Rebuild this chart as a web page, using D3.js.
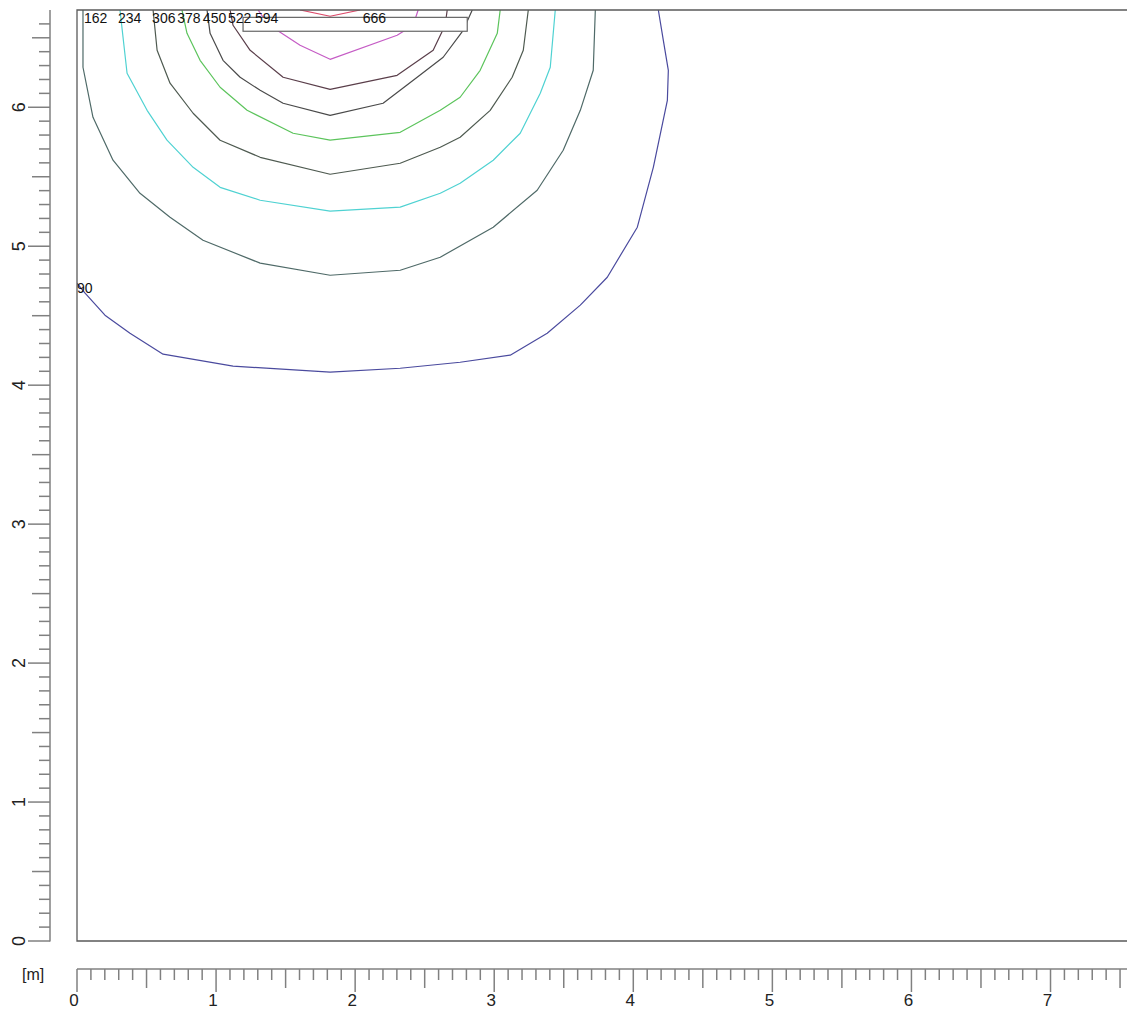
<!DOCTYPE html>
<html>
<head>
<meta charset="utf-8">
<script src="https://cdn.jsdelivr.net/npm/d3@7/dist/d3.min.js"></script>
<style>
  html, body { margin: 0; padding: 0; background: #fff; }
  svg { display: block; }
  text { font-family: "Liberation Sans", Arial, sans-serif; }
</style>
</head>
<body>
<svg id="chart" width="1127" height="1011"></svg>
<script>
// ---- data (metres) ----
const levels = [90, 162, 234, 306, 378, 450, 522, 594, 666];

const c90 = [[0,4.734],[0.058,4.662],[0.201,4.504],[0.381,4.374],[0.619,4.223],[1.122,4.137],[1.820,4.094],[2.324,4.122],[2.755,4.165],[3.115,4.216],[3.381,4.374],[3.619,4.576],[3.813,4.777],[4.029,5.137],[4.144,5.568],[4.245,6.050],[4.252,6.266],[4.216,6.482],[4.180,6.7]];
const c162 = [[0.043,6.7],[0.043,6.288],[0.115,5.928],[0.259,5.619],[0.453,5.381],[0.669,5.209],[0.906,5.043],[1.317,4.878],[1.820,4.791],[2.324,4.827],[2.612,4.921],[2.993,5.137],[3.309,5.403],[3.496,5.691],[3.619,5.978],[3.712,6.266],[3.727,6.7]];
const c234 = [[0.309,6.7],[0.360,6.245],[0.504,5.978],[0.647,5.763],[0.835,5.568],[1.029,5.424],[1.317,5.331],[1.820,5.252],[2.324,5.281],[2.612,5.381],[2.755,5.453],[2.993,5.619],[3.187,5.813],[3.331,6.101],[3.403,6.288],[3.439,6.7]];
const c306 = [[0.547,6.7],[0.576,6.410],[0.669,6.173],[0.835,5.957],[1.029,5.763],[1.317,5.640],[1.820,5.518],[2.324,5.597],[2.612,5.712],[2.755,5.784],[2.971,5.978],[3.129,6.216],[3.209,6.410],[3.245,6.7]];
const c378 = [[0.755,6.7],[0.791,6.532],[0.885,6.338],[1.029,6.144],[1.223,5.978],[1.554,5.813],[1.820,5.763],[2.324,5.820],[2.612,5.978],[2.755,6.072],[2.899,6.266],[3.022,6.532],[3.043,6.7]];
const c450 = [[0.935,6.7],[0.957,6.532],[1.050,6.338],[1.173,6.216],[1.317,6.122],[1.482,6.029],[1.820,5.942],[2.201,6.029],[2.446,6.216],[2.633,6.360],[2.777,6.554],[2.842,6.7]];
const c522 = [[1.101,6.7],[1.122,6.590],[1.245,6.410],[1.482,6.216],[1.820,6.129],[2.302,6.230],[2.561,6.410],[2.647,6.590],[2.662,6.7]];
const c594 = [[1.302,6.7],[1.353,6.626],[1.439,6.554],[1.604,6.446],[1.820,6.345],[2.302,6.518],[2.417,6.590],[2.453,6.7]];
const c666 = [[1.604,6.7],[1.820,6.655],[2.036,6.7]];
const contourLines = [c90, c162, c234, c306, c378, c450, c522, c594, c666];

// label anchors (metres) for each level
const labelX = [0.0, 0.05, 0.295, 0.54, 0.72, 0.905, 1.085, 1.28, 2.055];
const labelY = [4.662, 6.604, 6.604, 6.604, 6.604, 6.604, 6.604, 6.604, 6.604];

// source rectangle (metres)
const sourceX = [1.194, 2.806];
const sourceY = [6.547, 6.647];

// axes
const xTickLabels = ["0","1","2","3","4","5","6","7"];
const yTickLabels = ["0","1","2","3","4","5","6"];
const xDomain = [0, 7.55];
const yDomain = [0, 6.7];

// ---- styles ----
const colors = ["#4a4a9e", "#4f6a68", "#4fd2d2", "#4e5a50", "#5cc45c", "#4a4a4a", "#5a3e4a", "#c55cc5", "#dc4a6a"];

const svg = d3.select("#chart");
const x = d3.scaleLinear().domain(xDomain).range([77, 1127]);
const y = d3.scaleLinear().domain(yDomain).range([941, 10]);

svg.append("defs").append("clipPath").attr("id", "plotclip")
  .append("rect").attr("x", 77).attr("y", 10).attr("width", 1050).attr("height", 931);

// contours
const line = d3.line().x(d => x(d[0])).y(d => y(d[1]));
const g = svg.append("g").attr("clip-path", "url(#plotclip)");
contourLines.forEach((pts, i) => {
  g.append("path").attr("d", line(pts))
    .attr("fill", "none").attr("stroke", colors[i]).attr("stroke-width", 1.2)
    .attr("stroke-linejoin", "round");
});

// source box
svg.append("rect")
  .attr("x", x(sourceX[0])).attr("y", y(sourceY[1]))
  .attr("width", x(sourceX[1]) - x(sourceX[0]))
  .attr("height", y(sourceY[0]) - y(sourceY[1]))
  .attr("fill", "#fff").attr("stroke", "#666").attr("stroke-width", 1.2);

// frame
svg.append("path")
  .attr("d", `M1127,${y(6.7)}H${x(0)}V${y(0)}H1127`)
  .attr("fill", "none").attr("stroke", "#5a5a5a").attr("stroke-width", 1.3);

// labels
levels.forEach((lv, i) => {
  svg.append("text").attr("x", x(labelX[i])).attr("y", y(labelY[i]))
    .attr("font-size", 14).attr("fill", "#111").text(lv);
});

// left ruler
const rulerX = 50;
const rg = svg.append("g").attr("stroke", "#808080").attr("stroke-width", 1.5);
rg.append("line").attr("x1", rulerX).attr("x2", rulerX).attr("y1", y(0) + 0.5).attr("y2", y(6.7));
d3.range(0, 67).forEach(k => {
  const v = k / 10;
  const len = k % 10 === 0 ? 22 : (k % 5 === 0 ? 18 : 11);
  rg.append("line").attr("x1", rulerX - len).attr("x2", rulerX).attr("y1", y(v)).attr("y2", y(v));
});
yTickLabels.forEach(t => {
  svg.append("text")
    .attr("transform", `translate(25,${y(+t)}) rotate(-90)`)
    .attr("text-anchor", "middle").attr("font-size", 18).attr("fill", "#222").text(t);
});

// bottom ruler
const rulerY = 969;
const bg = svg.append("g").attr("stroke", "#808080").attr("stroke-width", 1.5);
bg.append("line").attr("x1", x(0)).attr("x2", 1127).attr("y1", rulerY).attr("y2", rulerY);
d3.range(0, 76).forEach(k => {
  const v = k / 10;
  const len = k % 10 === 0 ? 23 : (k % 5 === 0 ? 19 : 11);
  bg.append("line").attr("x1", x(v)).attr("x2", x(v)).attr("y1", rulerY).attr("y2", rulerY + len);
});
xTickLabels.forEach(t => {
  svg.append("text").attr("x", x(+t) - 3).attr("y", 1006)
    .attr("text-anchor", "middle").attr("font-size", 17).attr("fill", "#222").text(t);
});
svg.append("text").attr("x", 22).attr("y", 980).attr("font-size", 16).attr("fill", "#222").text("[m]");
</script>
</body>
</html>
